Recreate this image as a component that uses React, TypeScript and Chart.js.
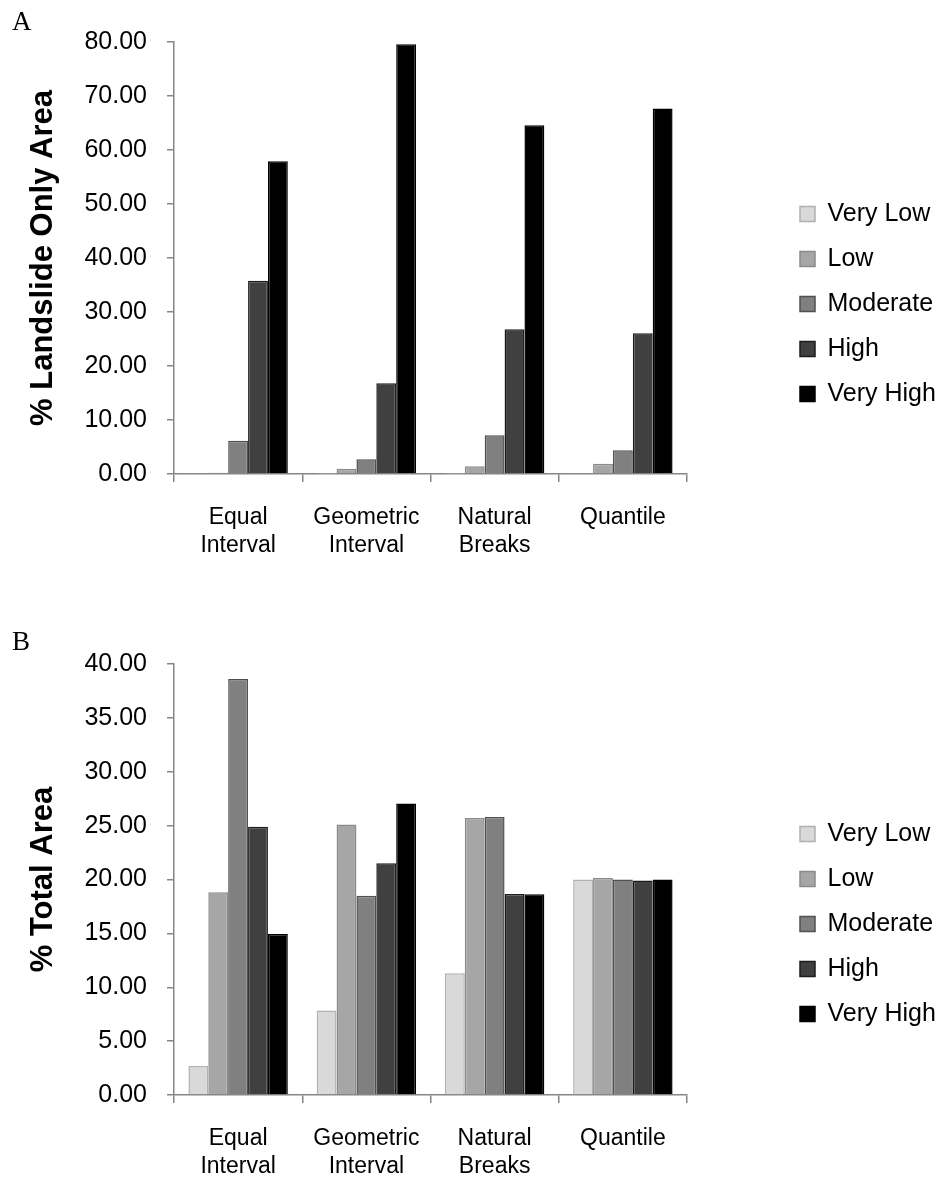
import React, { useEffect, useRef } from "react";
import { Chart, registerables } from "chart.js";

Chart.register(...registerables);

// Classification methods along the x axis
const categories: string[][] = [
  ["Equal", "Interval"],
  ["Geometric", "Interval"],
  ["Natural", "Breaks"],
  ["Quantile"],
];

const seriesNames = ["Very Low", "Low", "Moderate", "High", "Very High"];
const fillColors = ["#d9d9d9", "#a6a6a6", "#808080", "#404040", "#000000"];
const edgeColors = ["#b0b0b0", "#8a8a8a", "#505050", "#1c1c1c", "#000000"];

// Panel A: % landslide only area
const landslideVeryLow = [0.1, 0.05, 0.05, 0.1];
const landslideLow = [0.25, 0.98, 1.43, 1.92];
const landslideModerate = [6.17, 2.72, 7.17, 4.39];
const landslideHigh = [35.77, 16.8, 26.8, 26.07];
const landslideVeryHigh = [57.9, 79.6, 64.6, 67.7];

// Panel B: % total area
const totalVeryLow = [2.7, 7.85, 11.3, 20.0];
const totalLow = [18.82, 25.1, 25.7, 20.15];
const totalModerate = [38.6, 18.5, 25.8, 20.0];
const totalHigh = [24.9, 21.5, 18.65, 19.9];
const totalVeryHigh = [14.95, 27.05, 18.63, 20.0];

const SANS = '"Liberation Sans", Arial, sans-serif';
const AXIS_GRAY = "#868686";

type PanelProps = {
  series: number[][];
  yMax: number;
  yStep: number;
  yTitle: string;
  height: number;
  padTop: number;
  xAxisHeight: number;
};

function Panel({ series, yMax, yStep, yTitle, height, padTop, xAxisHeight }: PanelProps) {
  const ref = useRef<HTMLCanvasElement | null>(null);

  useEffect(() => {
    if (!ref.current) return;
    const chart = new Chart(ref.current, {
      type: "bar",
      data: {
        labels: categories,
        datasets: series.map((values, i) => ({
          label: seriesNames[i],
          data: values,
          backgroundColor: fillColors[i],
          borderColor: edgeColors[i],
          borderWidth: 1.5,
          xAxisID: "x",
          yAxisID: "y",
          categoryPercentage: 0.775,
          barPercentage: 1,
        })),
      },
      options: {
        animation: false,
        responsive: false,
        maintainAspectRatio: false,
        layout: { padding: { top: padTop, right: 0, bottom: 0, left: 0 } },
        plugins: {
          tooltip: { enabled: false },
          legend: {
            position: "right",
            align: "center",
            maxWidth: 164,
            labels: {
              boxWidth: 15,
              boxHeight: 15,
              padding: 20,
              color: "#000",
              font: { family: SANS, size: 25 },
            },
          },
        },
        scales: {
          x: {
            type: "category",
            offset: true,
            grid: {
              offset: true,
              drawOnChartArea: false,
              drawTicks: true,
              tickLength: 8,
              color: AXIS_GRAY,
              lineWidth: 1.5,
            },
            border: { color: AXIS_GRAY, width: 1.5 },
            ticks: {
              color: "#000",
              padding: 22,
              maxRotation: 0,
              autoSkip: false,
              font: { family: SANS, size: 23, lineHeight: 1.22 },
            },
            afterFit: (scale: any) => {
              scale.height = xAxisHeight;
            },
          },
          y: {
            type: "linear",
            position: "left",
            min: 0,
            max: yMax,
            grid: {
              drawOnChartArea: false,
              drawTicks: true,
              tickLength: 7,
              color: AXIS_GRAY,
              lineWidth: 1.5,
            },
            border: { color: AXIS_GRAY, width: 1.5 },
            ticks: {
              stepSize: yStep,
              color: "#000",
              padding: 20,
              font: { family: SANS, size: 25 },
              callback: (v: any) => Number(v).toFixed(2),
            },
            title: {
              display: true,
              text: yTitle,
              color: "#000",
              padding: { top: 25, bottom: 0 },
              font: { family: SANS, size: 31, weight: "bold", lineHeight: 1.2 },
            },
            afterFit: (scale: any) => {
              scale.width = 174;
            },
          },
          // empty band between the plot and the legend
          gap: {
            type: "linear",
            axis: "y",
            position: "right",
            display: true,
            grid: { display: false },
            border: { display: false },
            ticks: { display: false },
            afterFit: (scale: any) => {
              scale.width = 93;
            },
          },
        },
      } as any,
    });
    return () => chart.destroy();
  }, []);

  return <canvas ref={ref} width={944} height={height} style={{ display: "block", width: 944, height }} />;
}

export default function App() {
  const letterStyle: React.CSSProperties = {
    position: "absolute",
    left: 12,
    fontFamily: '"Liberation Serif", "Times New Roman", serif',
    fontSize: 27,
    lineHeight: "27px",
    color: "#000",
  };
  return (
    <div
      style={{
        position: "absolute",
        left: 0,
        top: 0,
        width: 944,
        height: 1178,
        overflow: "hidden",
        background: "#fff",
      }}
    >
      <div style={{ position: "absolute", left: 0, top: 0 }}>
        <Panel
          series={[landslideVeryLow, landslideLow, landslideModerate, landslideHigh, landslideVeryHigh]}
          yMax={80}
          yStep={10}
          yTitle="% Landslide Only Area"
          height={566}
          padTop={42}
          xAxisHeight={92}
        />
      </div>
      <div style={{ position: "absolute", left: 0, top: 590 }}>
        <Panel
          series={[totalVeryLow, totalLow, totalModerate, totalHigh, totalVeryHigh]}
          yMax={40}
          yStep={5}
          yTitle="% Total Area"
          height={594}
          padTop={74}
          xAxisHeight={89}
        />
      </div>
      <div style={{ ...letterStyle, top: 8 }}>A</div>
      <div style={{ ...letterStyle, top: 628 }}>B</div>
    </div>
  );
}
